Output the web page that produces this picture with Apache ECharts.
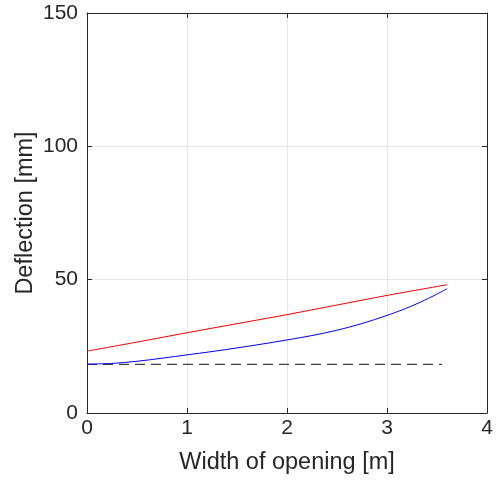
<!DOCTYPE html>
<html>
<head>
<meta charset="utf-8">
<script src="https://cdn.jsdelivr.net/npm/echarts@6/dist/echarts.min.js"></script>
<style>
html,body{margin:0;padding:0;background:#fff;}
#chart{width:497px;height:482px;}
</style>
</head>
<body>
<div id="chart"></div>
<script>
// Opening width [m] vs deflection [mm]
const widthRed = [0, 0.5, 1, 1.5, 2, 2.5, 3, 3.6];
const deflRed = [23.2, 26.6, 30.1, 33.5, 36.9, 40.5, 44.1, 48.1];

const widthBlue = [0, 0.25, 0.5, 0.75, 1, 1.25, 1.5, 1.75, 2, 2.25, 2.5, 2.75, 3, 3.15, 3.3, 3.45, 3.6];
const deflBlue = [18.3, 18.6, 19.4, 20.55, 21.8, 23.05, 24.4, 25.85, 27.4, 29.05, 31.05, 33.55, 36.6, 38.65, 41.0, 43.65, 46.6];

const widthDash = [0, 3.55];
const deflDash = [18.2, 18.2];

const xTicks = [0, 1, 2, 3, 4];
const yTicks = [0, 50, 100, 150];

const pairs = (xs, ys) => xs.map((x, i) => [x, ys[i]]);

const font = 'Liberation Sans, Arial, Helvetica, sans-serif';
const axisColor = '#262626';

const baseX = {
  type: 'value', min: xTicks[0], max: xTicks[xTicks.length - 1], interval: 1,
  axisLine: { show: true, onZero: false, lineStyle: { color: axisColor, width: 1 } },
  axisTick: { show: true, inside: true, length: 5, lineStyle: { color: axisColor } },
  splitLine: { show: false }
};
const baseY = {
  type: 'value', min: yTicks[0], max: yTicks[yTicks.length - 1], interval: 50,
  axisLine: { show: true, onZero: false, lineStyle: { color: axisColor, width: 1 } },
  axisTick: { show: true, inside: true, length: 5, lineStyle: { color: axisColor } },
  splitLine: { show: false }
};

const chart = echarts.init(document.getElementById('chart'));
chart.setOption({
  animation: false,
  backgroundColor: '#fff',
  grid: { left: 87, right: 10, top: 13, bottom: 69, containLabel: false },
  xAxis: [
    Object.assign({}, baseX, {
      position: 'bottom',
      name: 'Width of opening [m]', nameLocation: 'middle', nameGap: 38,
      nameTextStyle: { fontFamily: font, fontSize: 23.5, color: axisColor },
      axisLabel: { fontFamily: font, fontSize: 21, color: axisColor, margin: 5 },
      splitLine: { show: true, lineStyle: { color: '#e6e6e6', width: 1 } }
    }),
    Object.assign({}, baseX, { position: 'top', axisLabel: { show: false } })
  ],
  yAxis: [
    Object.assign({}, baseY, {
      position: 'left',
      name: 'Deflection [mm]', nameLocation: 'middle', nameGap: 49,
      nameMoveOverlap: false,
      nameTextStyle: { fontFamily: font, fontSize: 23.5, color: axisColor },
      axisLabel: { fontFamily: font, fontSize: 21, color: axisColor, margin: 9 },
      splitLine: { show: true, lineStyle: { color: '#e6e6e6', width: 1 } }
    }),
    Object.assign({}, baseY, { position: 'right', axisLabel: { show: false } })
  ],
  series: [
    {
      type: 'line', data: pairs(widthDash, deflDash), showSymbol: false,
      lineStyle: { color: '#404040', width: 1.2, type: [10, 6] }, z: 2
    },
    {
      type: 'line', data: pairs(widthRed, deflRed), showSymbol: false, smooth: 0.3,
      lineStyle: { color: '#ff0000', width: 1 }, z: 3
    },
    {
      type: 'line', data: pairs(widthBlue, deflBlue), showSymbol: false, smooth: 0.3,
      lineStyle: { color: '#0000ff', width: 1 }, z: 3
    }
  ]
});
</script>
</body>
</html>
